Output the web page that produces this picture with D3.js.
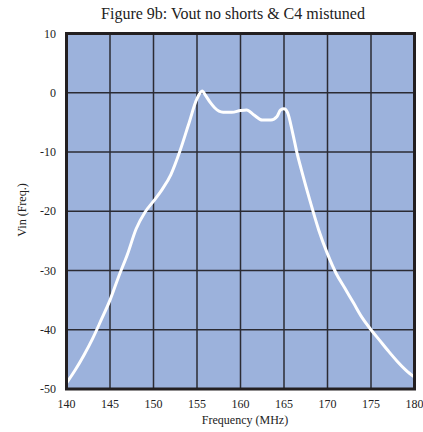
<!DOCTYPE html>
<html>
<head>
<meta charset="utf-8">
<script src="https://cdn.jsdelivr.net/npm/d3@7"></script>
<style>
  body { margin: 0; background: #fff; }
  text { font-family: "Liberation Serif", "Times New Roman", serif; fill: #222; }
</style>
</head>
<body>
<svg width="423" height="432"></svg>
<script>
const freqs = [140, 141, 142, 143, 144, 145, 146, 147, 148, 149, 150, 151, 152, 153, 154, 155,
    155.6, 156, 156.5, 157, 158, 159, 160, 160.7, 161.5, 162.5, 163.5, 164.2, 164.6, 165, 165.4,
    166, 166.5, 167, 168, 169, 170, 171, 172, 173, 174, 175, 176, 177, 178, 179, 180];
const vin = [-49, -46.8, -44.3, -41.5, -38.3, -35, -31, -27.3, -23, -20.2, -18.3, -16.3, -13.8, -10, -5.5, -1,
    0.3, -0.5, -1.6, -2.5, -3.3, -3.3, -3.0, -2.9, -3.7, -4.6, -4.6, -4.0, -2.9, -2.7, -3.3,
    -6.8, -10.2, -13, -18.3, -23.2, -27.2, -30.5, -33, -35.5, -38, -40, -41.8, -43.6, -45.3, -46.8, -48];
const xTicks = [140, 145, 150, 155, 160, 165, 170, 175, 180];
const yTicks = [10, 0, -10, -20, -30, -40, -50];

const svg = d3.select("svg");
const pLeft = 66.5, pRight = 414.5, pTop = 33.5, pBottom = 389;

const x = d3.scaleLinear().domain([140, 180]).range([pLeft, pRight]);
const y = d3.scaleLinear().domain([-50, 10]).range([pBottom, pTop]);

svg.append("text")
    .attr("x", 233)
    .attr("y", 19)
    .attr("text-anchor", "middle")
    .attr("font-size", "16px")
    .text("Figure 9b: Vout no shorts & C4 mistuned");

svg.append("rect")
    .attr("x", pLeft)
    .attr("y", pTop)
    .attr("width", pRight - pLeft)
    .attr("height", pBottom - pTop)
    .attr("fill", "#9cb2dc");

// grid
svg.append("g")
    .selectAll("line")
    .data(xTicks.slice(1, -1))
    .enter()
    .append("line")
    .attr("x1", d => x(d)).attr("x2", d => x(d))
    .attr("y1", pTop).attr("y2", pBottom)
    .attr("stroke", "#2b2b33")
    .attr("stroke-width", 1.5);

svg.append("g")
    .selectAll("line")
    .data(yTicks.slice(1, -1))
    .enter()
    .append("line")
    .attr("x1", pLeft).attr("x2", pRight)
    .attr("y1", d => y(d)).attr("y2", d => y(d))
    .attr("stroke", "#2b2b33")
    .attr("stroke-width", 1.5);

const line = d3.line()
    .x((d, i) => x(freqs[i]))
    .y(d => y(d))
    .curve(d3.curveMonotoneX);

svg.append("path")
    .datum(vin)
    .attr("d", line)
    .attr("fill", "none")
    .attr("stroke", "#fff")
    .attr("stroke-width", 3)
    .attr("stroke-linejoin", "round");

svg.append("rect")
    .attr("x", pLeft)
    .attr("y", pTop)
    .attr("width", pRight - pLeft)
    .attr("height", pBottom - pTop)
    .attr("fill", "none")
    .attr("stroke", "#231f20")
    .attr("stroke-width", 3);

// tick labels
svg.append("g")
    .selectAll("text")
    .data(yTicks)
    .enter()
    .append("text")
    .attr("x", 56)
    .attr("y", d => y(d))
    .attr("dy", "0.35em")
    .attr("text-anchor", "end")
    .attr("font-size", "12px")
    .text(d => d);

svg.append("g")
    .selectAll("text")
    .data(xTicks)
    .enter()
    .append("text")
    .attr("x", d => x(d))
    .attr("y", 408)
    .attr("text-anchor", "middle")
    .attr("font-size", "12px")
    .text(d => d);

svg.append("text")
    .attr("x", 245)
    .attr("y", 424)
    .attr("text-anchor", "middle")
    .attr("font-size", "12px")
    .text("Frequency (MHz)");

svg.append("text")
    .attr("transform", "translate(26, 210) rotate(-90)")
    .attr("text-anchor", "middle")
    .attr("font-size", "12px")
    .text("Vin (Freq.)");
</script>
</body>
</html>
